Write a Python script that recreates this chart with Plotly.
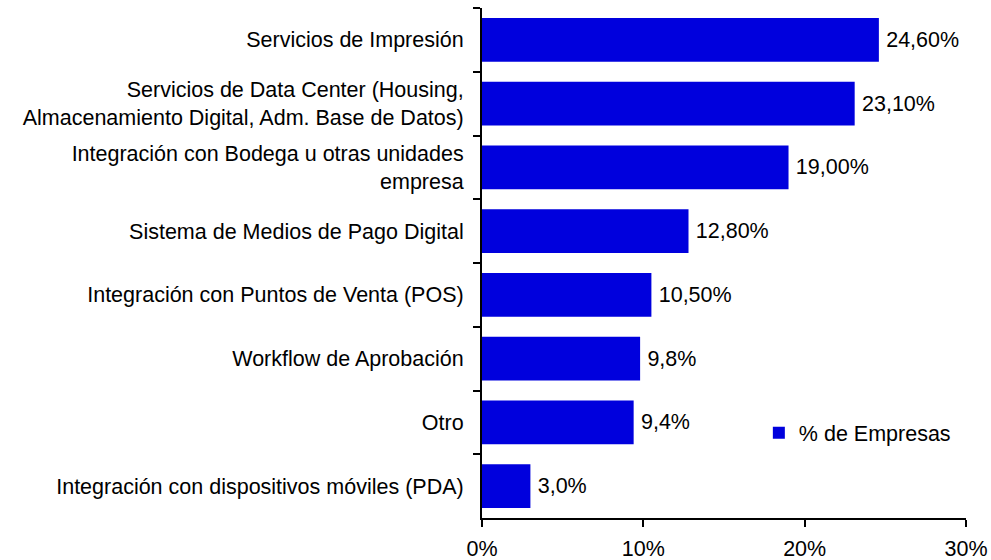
import plotly.graph_objects as go

categories = [
    "Servicios de Impresión",
    "Servicios de Data Center (Housing,<br>Almacenamiento Digital, Adm. Base de Datos)",
    "Integración con Bodega u otras unidades<br>empresa",
    "Sistema de Medios de Pago Digital",
    "Integración con Puntos de Venta (POS)",
    "Workflow de Aprobación",
    "Otro",
    "Integración con dispositivos móviles (PDA)",
]
values = [24.6, 23.1, 19.0, 12.8, 10.5, 9.8, 9.4, 3.0]
value_labels = ["24,60%", "23,10%", "19,00%", "12,80%", "10,50%", "9,8%", "9,4%", "3,0%"]
series_name = "% de Empresas"
x_ticks = [0, 10, 20, 30]
x_tick_labels = ["0%", "10%", "20%", "30%"]

FONT = "Liberation Sans, Arial, sans-serif"
FS = 21.5

fig = go.Figure()
fig.add_trace(go.Bar(
    x=values,
    y=categories,
    orientation="h",
    name=series_name,
    marker=dict(color="#0000DD", line=dict(width=0)),
    text=value_labels,
    texttemplate="\u2009%{text}",
    textposition="outside",
    textfont=dict(family=FONT, size=FS, color="black"),
    cliponaxis=False,
    showlegend=True,
))

fig.update_layout(
    width=991,
    height=560,
    margin=dict(l=482, r=25, t=8, b=42, autoexpand=False),
    paper_bgcolor="white",
    plot_bgcolor="white",
    font=dict(family=FONT, size=FS, color="black"),
    bargap=0.31,
    showlegend=True,
    legend=dict(
        x=0.572, y=0.167, xanchor="left", yanchor="middle",
        bgcolor="rgba(0,0,0,0)", font=dict(size=FS),
        itemwidth=30,
    ),
    xaxis=dict(
        range=[0, 30],
        tickvals=x_ticks,
        ticktext=x_tick_labels,
        ticks="outside",
        ticklen=7,
        tickwidth=2,
        tickcolor="black",
        showline=True,
        linecolor="black",
        linewidth=2,
        showgrid=False,
        zeroline=False,
        automargin=False,
        ticklabelstandoff=3,
    ),
    yaxis=dict(
        autorange="reversed",
        ticks="outside",
        tickson="boundaries",
        ticklen=7,
        tickwidth=2,
        tickcolor="black",
        showline=True,
        linecolor="black",
        linewidth=2,
        showgrid=False,
        zeroline=False,
        automargin=False,
        ticklabelstandoff=12,
    ),
)

fig.write_html(
    "out.html",
    config={"displayModeBar": False},
    post_script="document.body.style.margin='0';document.body.style.overflow='hidden';",
)
